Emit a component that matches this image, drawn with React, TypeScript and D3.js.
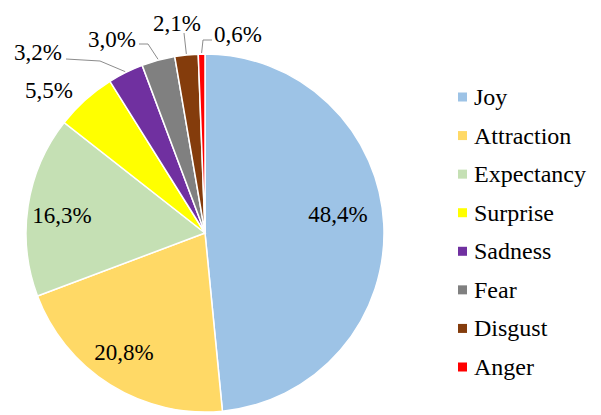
import React from "react";
import * as d3 from "d3";

const categories = ["Joy", "Attraction", "Expectancy", "Surprise", "Sadness", "Fear", "Disgust", "Anger"];
const values = [48.4, 20.8, 16.3, 5.5, 3.2, 3.0, 2.1, 0.6];
const labels = ["48,4%", "20,8%", "16,3%", "5,5%", "3,2%", "3,0%", "2,1%", "0,6%"];
const colors = ["#9DC3E6", "#FFD966", "#C5E0B4", "#FFFF00", "#7030A0", "#808080", "#843C0C", "#FF0000"];

// label positions (layout) and leader elbows for the small slices
const labelPos: [number, number][] = [
  [338, 214], [124, 352], [62, 215], [49, 90], [38, 52], [112, 39], [177, 23], [238, 34],
];
const leaders: ([number, number][] | null)[] = [
  null, null, null, null,
  [[66, 59], [100, 61]],
  [[139, 44], [148, 44]],
  [[184, 33]],
  [[212, 40], [203, 40]],
];

const w = 601;
const h = 415;
const cx = 205;
const cy = 233;
const r = 179;

const App = () => {
  const data = categories.map((c, i) => ({ c, v: values[i], i }));
  const arcs = d3.pie<any>().sort(null).value((d) => d.v)(data);
  const arc = d3.arc<any>().innerRadius(0).outerRadius(r);
  const edge = d3.arc<any>().innerRadius(r + 1).outerRadius(r + 1);
  const line = d3.line();
  const y = d3.scalePoint().domain(categories).range([97, 367]);

  return (
    <svg
      width={w}
      height={h}
      style={{ position: "absolute", left: 0, top: 0, display: "block", background: "#fff" }}
    >
      <g transform={`translate(${cx},${cy})`}>
        {arcs.map((a) => (
          <path key={a.data.c} d={arc(a) as string} fill={colors[a.data.i]} stroke="#fff" strokeWidth={1.5} />
        ))}
      </g>
      {arcs.map((a) => {
        const pts = leaders[a.data.i];
        if (!pts) return null;
        const [ex, ey] = edge.centroid(a);
        return (
          <path
            key={"l" + a.data.c}
            d={line([...pts, [ex + cx, ey + cy]]) as string}
            fill="none"
            stroke="#8c8c8c"
            strokeWidth={1}
          />
        );
      })}
      {arcs.map((a) => (
        <text
          key={"t" + a.data.c}
          x={labelPos[a.data.i][0]}
          y={labelPos[a.data.i][1] + 8}
          textAnchor="middle"
          fontSize={23}
          fontFamily="Liberation Serif"
        >
          {labels[a.data.i]}
        </text>
      ))}
      {categories.map((c, i) => (
        <g key={"k" + c}>
          <rect x={458} y={(y(c) as number) - 4.5} width={9} height={9} fill={colors[i]} />
          <text x={474} y={(y(c) as number) + 8} fontSize={24} fontFamily="Liberation Serif">
            {c}
          </text>
        </g>
      ))}
    </svg>
  );
};

export default App;
